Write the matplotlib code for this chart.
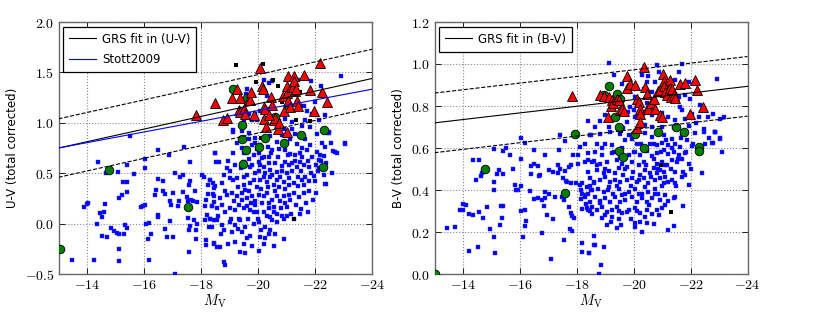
import numpy as np
import matplotlib
matplotlib.use("Agg")
import matplotlib.pyplot as plt
from matplotlib.ticker import FuncFormatter, MultipleLocator

plt.rcParams['mathtext.fontset'] = 'cm'
plt.rcParams['font.family'] = ['DejaVu Sans']

# ---------------- data : left panel (M_V, U-V) ----------------
uv_blue = [
    (-15.52,0.87),(-14.37,0.61),(-14.67,0.50),(-15.41,0.58),(-15.08,0.51),(-16.04,0.64),(-16.03,0.55),
    (-15.64,0.49),(-15.26,0.41),(-15.40,0.41),(-15.40,0.31),(-15.22,0.28),(-15.11,0.25),(-14.64,0.19),
    (-14.01,0.19),(-13.90,0.16),(-14.59,0.12),(-14.47,0.11),(-14.53,0.065),(-14.36,0.0),(-14.84,-0.047),
    (-14.95,-0.07),(-15.32,-0.018),(-15.40,-0.047),(-15.13,-0.10),(-15.31,-0.10),(-14.53,-0.12),(-14.70,-0.13),
    (-15.13,-0.25),(-13.47,-0.36),(-14.23,-0.36),(-15.13,-0.37),(-16.19,-0.36),(-15.88,0.16),(-15.95,0.17),
    (-16.04,0.18),(-16.07,0.0),(-16.16,0.006),(-16.25,-0.10),(-16.14,-0.15),(-16.49,0.73),(-16.86,0.68),
    (-16.41,0.33),(-16.39,0.28),(-16.48,0.44),(-16.65,0.42),(-16.67,0.32),(-16.72,0.29),(-17.03,0.30),
    (-16.90,0.22),(-16.93,0.18),(-17.24,0.22),(-17.21,0.17),(-16.49,0.07),(-16.48,0.085),(-16.91,0.028),
    (-16.74,-0.054),(-16.79,-0.13),(-17.03,-0.13),(-17.10,-0.50),(-17.10,0.50),(-17.26,0.46),(-17.40,0.76),
    (-17.37,0.48),(-17.61,0.61),(-17.61,0.42),(-17.59,0.38),(-17.37,0.31),(-17.52,0.26),(-17.66,0.23),
    (-17.54,0.22),(-17.72,0.22),(-17.87,0.21),(-17.80,0.32),(-17.54,0.06),(-17.77,0.035),(-17.87,-0.008),
    (-17.62,-0.02),(-17.59,-0.064),(-17.82,-0.064),(-17.81,-0.15),(-17.58,-0.28),(-18.03,0.48),(-18.11,0.46),
    (-18.23,0.38),(-18.32,0.43),(-18.41,0.40),(-18.45,0.35),(-18.50,0.70),(-18.54,0.61),(-18.23,0.29),
    (-18.42,0.29),(-18.16,0.23),(-18.44,0.21),(-18.15,0.17),(-18.38,0.17),(-18.20,0.085),(-18.15,0.035),
    (-18.32,0.045),(-18.45,0.038),(-18.27,-0.03),(-18.38,-0.03),(-18.18,-0.21),(-18.44,-0.19),(-18.55,-0.23),
    (-18.17,-0.16),(-14.02,0.20),(-15.07,-0.09),
    (-19.11,0.91),(-19.44,0.92),(-19.67,0.90),(-19.90,0.85),(-19.79,0.78),(-19.96,0.74),(-20.08,0.78),
    (-20.26,0.83),(-20.43,0.87),(-20.67,0.81),(-20.84,0.88),(-21.13,0.84),(-21.31,0.89),(-21.37,0.79),
    (-21.66,0.84),(-21.84,0.78),(-22.07,0.89),(-22.36,0.76),(-22.48,0.90),(-22.62,0.72),(-22.77,0.70),
    (-23.04,0.79),(-18.49,0.70),(-19.12,0.70),(-19.52,0.70),(-19.85,0.68),(-20.02,0.70),(-20.20,0.66),
    (-20.37,0.66),(-20.49,0.73),(-20.72,0.74),(-20.96,0.73),(-21.13,0.69),(-21.31,0.68),(-21.48,0.70),
    (-21.72,0.73),(-22.07,0.71),(-22.19,0.68),(-22.13,0.63),(-22.05,0.58),(-18.62,0.61),(-19.03,0.52),
    (-19.50,0.61),(-19.70,0.64),(-19.73,0.56),(-20.02,0.61),(-20.08,0.58),(-20.20,0.56),(-20.37,0.60),
    (-20.43,0.53),(-20.61,0.60),(-20.67,0.51),(-20.84,0.57),(-20.96,0.61),(-21.08,0.58),(-21.19,0.60),
    (-21.37,0.56),(-21.48,0.61),(-21.60,0.58),(-21.78,0.56),(-21.95,0.47),(-22.36,0.39),(-18.33,0.43),
    (-18.50,0.37),(-18.73,0.40),(-18.85,0.32),(-19.14,0.43),(-19.26,0.45),(-19.50,0.46),(-19.50,0.38),
    (-19.55,0.33),(-19.73,0.40),(-19.85,0.43),(-20.08,0.43),(-20.20,0.46),(-20.31,0.41),(-20.43,0.46),
    (-20.55,0.38),(-20.67,0.43),(-20.78,0.46),(-20.90,0.41),(-21.08,0.45),(-21.25,0.40),(-21.39,0.37),
    (-21.54,0.43),(-21.60,0.38),(-21.78,0.32),(-21.93,0.23),(-21.74,0.12),(-18.44,0.27),(-18.68,0.25),
    (-18.91,0.28),(-19.09,0.30),(-19.26,0.27),(-19.44,0.30),(-19.61,0.25),(-19.79,0.27),(-19.90,0.22),
    (-20.02,0.28),(-20.20,0.27),(-20.31,0.30),(-20.49,0.23),(-20.67,0.27),(-20.78,0.22),(-20.90,0.27),
    (-21.08,0.28),(-21.13,0.23),(-20.96,0.20),(-18.38,0.17),(-18.56,0.15),(-18.73,0.18),(-18.85,0.12),
    (-19.03,0.15),(-19.20,0.13),(-19.32,0.18),(-19.50,0.15),(-19.61,0.17),(-19.73,0.13),(-19.90,0.18),
    (-19.96,0.12),(-20.20,0.12),(-20.37,0.15),(-20.43,0.07),(-20.67,0.10),(-20.84,0.08),(-21.02,0.08),
    (-21.46,0.094),(-18.33,0.05),(-18.56,0.036),(-18.73,-0.014),(-18.79,-0.064),(-19.0,0.02),(-19.20,-0.014),
    (-19.38,0.036),(-19.55,-0.03),(-19.85,0.0),(-20.02,0.02),(-20.26,-0.03),(-20.49,0.036),(-20.43,-0.064),
    (-20.08,-0.13),(-20.26,-0.14),(-20.37,-0.10),(-20.55,-0.22),(-19.73,-0.12),(-19.44,-0.08),(-19.20,-0.18),
    (-19.50,-0.20),(-18.44,-0.20),(-18.65,-0.23),(-19.38,-0.28),(-19.55,-0.29),(-20.02,-0.27),(-18.79,-0.38),
    (-18.85,-0.41),
    (-22.91,1.46),(-22.22,1.37),(-21.86,1.41),(-21.40,1.42),(-21.23,1.41),(-21.02,1.43),(-20.49,1.41),
    (-20.37,1.39),(-20.20,1.42),(-20.14,1.32),(-20.31,1.27),(-19.61,1.34),(-19.59,1.29),(-21.13,1.26),
    (-21.37,1.21),(-21.43,1.14),(-21.60,1.17),(-21.72,1.12),(-21.89,1.09),(-22.01,1.21),(-22.36,1.08),
    (-22.13,1.03),(-21.66,1.03),(-21.19,1.01),(-20.96,1.04),(-20.72,1.02),(-20.52,1.06),(-20.31,1.14),
    (-20.08,1.12),(-19.90,1.09),(-20.20,1.04),(-19.96,1.03),(-19.79,1.03),(-19.67,1.09),(-19.50,1.03),
    (-19.12,0.93),(-20.67,0.96),(-20.90,0.94),(-21.19,0.94),(-21.54,0.97),(-21.84,0.96),(-22.46,0.90),
    (-23.04,0.80),(-22.71,0.71),(-22.50,0.91),(-22.39,0.39),(-22.20,0.62),(-22.30,0.48),(-22.10,0.52),
    (-18.90,0.55),(-19.00,0.45),(-19.20,0.58),(-19.30,0.36),(-19.35,0.05),(-19.40,0.55),(-19.60,0.48),
    (-19.65,0.05),(-19.70,0.32),(-19.80,0.58),(-19.85,0.12),(-19.90,0.50),(-19.95,0.36),(-20.00,0.05),
    (-20.05,0.52),(-20.10,0.34),(-20.15,0.20),(-20.15,0.65),(-20.25,0.50),(-20.30,0.08),(-20.35,0.36),
    (-20.40,0.20),(-20.45,0.70),(-20.50,0.48),(-20.55,0.12),(-20.60,0.32),(-20.65,0.02),(-20.70,0.66),
    (-20.75,0.36),(-20.80,0.15),(-20.85,0.52),(-20.90,0.05),(-20.95,0.34),(-21.00,0.50),(-21.00,0.16),
    (-21.05,0.68),(-21.10,0.38),(-21.15,0.10),(-21.20,0.52),(-21.25,0.30),(-21.30,0.62),(-21.35,0.18),
    (-21.40,0.46),(-21.45,0.26),(-21.50,0.52),(-21.55,0.66),(-21.60,0.30),(-21.65,0.46),(-21.70,0.20),
    (-21.75,0.62),(-21.80,0.42),(-21.85,0.50),(-21.90,0.66),(-22.00,0.42),(-22.05,0.30),(-22.15,0.55),
    (-22.25,0.80),(-22.40,0.60),(-22.55,0.80),(-22.60,0.50),(-19.05,0.05),(-19.10,-0.08),(-19.30,-0.05),
    (-19.60,-0.14),(-19.80,-0.22),(-20.20,-0.20),(-20.60,-0.10),(-20.90,-0.15),(-18.60,0.08),(-18.70,-0.10),
    (-18.95,-0.20),(-19.15,0.22),(-19.45,0.23),(-19.75,0.20),(-20.10,-0.06),(-20.55,0.16),(-21.25,0.05),
    (-21.50,0.14),(-19.90,0.80),(-20.35,0.76),(-21.00,0.80),(-21.55,0.75),(-19.70,0.84),(-22.30,0.67),
    (-18.80,0.48),(-18.95,0.62),(-19.25,0.80),(-19.45,0.75),
]
uv_black = [(-19.24,1.57),(-20.16,1.58),(-20.53,1.42),(-19.93,1.40),(-20.70,1.37),(-20.84,1.21),
            (-21.34,1.03),(-21.84,1.02),(-21.46,1.31),(-21.28,0.045),(-20.10,0.85)]
uv_green = [(-13.04,-0.25),(-14.76,0.53),(-17.56,0.16),(-19.14,1.34),(-19.61,1.25),(-19.44,0.98),
            (-19.44,0.84),(-19.59,0.73),(-19.47,0.59),(-20.02,0.76),(-20.26,0.85),(-20.61,1.06),
            (-20.90,0.80),(-21.07,1.16),(-21.52,0.88),(-22.30,0.93),(-22.27,0.56)]
uv_red = [(-17.82,1.08),(-18.48,1.20),(-18.76,1.03),(-18.91,1.05),(-19.09,1.25),(-19.26,1.34),
          (-19.38,1.25),(-19.35,1.13),(-19.38,1.11),(-19.50,1.14),(-19.55,1.09),(-19.67,1.24),
          (-19.73,1.23),(-19.75,1.31),(-19.85,1.08),(-20.07,1.54),(-20.14,1.37),(-20.16,1.34),
          (-20.20,1.16),(-20.26,1.14),(-20.20,1.04),(-20.29,0.96),(-20.45,1.26),(-20.49,1.18),
          (-20.55,1.03),(-20.61,1.05),(-20.69,0.94),(-20.72,1.00),(-20.88,1.27),(-20.90,1.12),
          (-21.00,1.30),(-21.02,1.37),(-21.04,1.46),(-21.07,1.22),(-21.13,1.16),(-21.16,1.36),
          (-21.23,1.36),(-21.25,1.46),(-21.27,1.41),(-21.31,1.32),(-21.34,1.34),(-21.37,1.22),
          (-21.40,1.17),(-21.02,0.91),(-21.62,1.47),(-21.81,1.33),(-21.98,1.12),(-22.16,1.59),
          (-22.25,1.31),(-22.42,1.21),(-20.40,1.08)]
# fit lines: colour = a + b * M_V
uv_grs_a, uv_grs_b, uv_grs_sig = -0.0655, -0.0627, 0.29
uv_stott_a, uv_stott_b = 0.061, -0.053

# ---------------- data : right panel (M_V, B-V) ----------------
bv_blue = [
    (-16.05,0.650),(-16.19,0.626),(-17.40,0.661),(-17.60,0.633),(-16.49,0.590),(-16.87,0.568),(-17.37,0.590),
    (-18.12,0.604),(-18.51,0.661),(-15.08,0.596),(-15.40,0.587),(-15.50,0.598),(-15.65,0.566),(-16.05,0.550),
    (-14.36,0.541),(-15.25,0.493),(-15.20,0.474),(-15.40,0.477),(-14.67,0.479),(-14.63,0.466),(-14.47,0.447),
    (-15.75,0.499),(-15.08,0.437),(-15.10,0.398),(-15.84,0.423),(-15.92,0.399),(-16.04,0.420),(-16.39,0.514),
    (-16.48,0.523),(-16.62,0.515),(-16.39,0.476),(-16.66,0.469),(-16.72,0.472),(-17.02,0.495),(-17.17,0.487),
    (-17.35,0.520),(-17.42,0.498),(-17.35,0.482),(-17.50,0.455),(-17.59,0.490),(-17.72,0.510),(-17.80,0.520),
    (-17.87,0.567),(-18.06,0.567),(-18.03,0.523),(-17.61,0.444),(-17.67,0.436),(-17.81,0.431),(-17.97,0.431),
    (-18.11,0.423),(-18.20,0.431),(-18.38,0.542),(-18.52,0.531),(-18.15,0.399),(-18.45,0.418),(-18.50,0.399),
    (-18.18,0.380),(-18.30,0.376),(-18.40,0.380),(-18.15,0.355),(-18.32,0.333),(-18.20,0.308),(-18.38,0.304),
    (-18.47,0.301),(-16.34,0.395),(-16.48,0.357),(-16.65,0.363),(-16.78,0.352),(-16.90,0.391),(-17.02,0.380),
    (-16.86,0.325),(-16.90,0.363),(-16.95,0.281),(-17.18,0.260),(-17.25,0.368),(-17.48,0.368),(-17.54,0.352),
    (-17.73,0.320),(-17.80,0.292),(-17.84,0.276),(-17.89,0.265),(-17.77,0.216),(-17.83,0.205),(-17.56,0.162),
    (-17.10,0.070),(-16.79,0.197),(-16.10,0.175),(-16.21,0.254),(-16.18,0.228),(-16.04,0.300),(-16.19,0.304),
    (-15.88,0.401),(-15.34,0.324),(-15.40,0.324),(-14.83,0.320),(-14.56,0.295),(-14.35,0.281),(-14.21,0.285),
    (-14.10,0.328),(-13.91,0.307),(-13.99,0.307),(-14.69,0.268),(-15.38,0.269),(-15.31,0.233),(-14.95,0.214),
    (-15.10,0.176),(-13.45,0.220),(-13.71,0.225),(-14.52,0.130),(-14.21,0.111),(-15.13,0.101),(-18.19,0.146),
    (-18.18,0.106),(-18.44,0.098),(-18.61,0.138),(-14.00,0.335),(-14.55,0.545),
    (-18.47,0.661),(-18.82,0.669),(-19.18,0.676),(-19.53,0.666),(-19.82,0.661),(-19.94,0.645),(-20.40,0.672),
    (-20.64,0.653),(-21.05,0.661),(-21.34,0.645),(-21.69,0.669),(-22.16,0.672),(-22.46,0.677),(-22.63,0.650),
    (-22.87,0.677),(-23.04,0.642),(-22.75,0.625),(-18.30,0.621),(-18.71,0.621),(-19.00,0.618),(-19.23,0.613),
    (-19.70,0.637),(-20.11,0.621),(-20.35,0.605),(-20.58,0.621),(-20.81,0.613),(-20.99,0.625),(-21.22,0.613),
    (-21.46,0.618),(-21.63,0.605),(-21.87,0.637),(-22.04,0.609),(-18.41,0.574),(-18.65,0.582),(-18.88,0.566),
    (-19.23,0.574),(-19.53,0.558),(-19.82,0.566),(-20.05,0.582),(-20.23,0.566),(-20.46,0.586),(-20.64,0.561),
    (-20.81,0.574),(-21.05,0.590),(-21.22,0.571),(-21.40,0.582),(-21.58,0.566),(-21.69,0.550),(-21.81,0.577),
    (-21.95,0.526),(-18.30,0.534),(-18.59,0.539),(-18.82,0.526),(-19.06,0.534),(-19.41,0.545),(-19.58,0.526),
    (-19.76,0.510),(-19.94,0.534),(-20.17,0.518),(-20.35,0.534),(-20.70,0.550),(-20.81,0.526),(-20.99,0.534),
    (-21.17,0.518),(-21.34,0.542),(-21.52,0.534),(-18.41,0.487),(-18.71,0.495),(-18.94,0.479),(-19.12,0.491),
    (-19.35,0.479),(-19.47,0.503),(-19.64,0.471),(-19.99,0.487),(-20.23,0.471),(-20.40,0.495),(-20.58,0.479),
    (-20.70,0.503),(-20.81,0.479),(-20.93,0.495),(-21.05,0.487),(-21.11,0.463),(-21.34,0.447),(-21.46,0.487),
    (-21.75,0.487),(-21.81,0.471),(-22.40,0.482),(-18.47,0.455),(-18.59,0.431),(-18.82,0.447),(-19.00,0.463),
    (-19.18,0.439),(-19.35,0.450),(-19.53,0.439),(-19.76,0.447),(-19.94,0.455),(-20.11,0.439),(-20.35,0.455),
    (-20.52,0.431),(-20.76,0.447),(-20.93,0.455),(-21.05,0.431),(-21.22,0.439),(-21.46,0.431),(-21.93,0.423),
    (-18.35,0.415),(-18.53,0.399),(-18.76,0.407),(-18.94,0.391),(-19.12,0.415),(-19.29,0.383),(-19.47,0.403),
    (-19.58,0.376),(-19.82,0.391),(-20.05,0.407),(-20.17,0.383),(-20.40,0.412),(-20.52,0.391),(-20.76,0.403),
    (-20.87,0.383),(-21.11,0.376),(-21.40,0.360),(-21.46,0.368),(-18.30,0.368),(-18.47,0.344),(-18.65,0.368),
    (-18.82,0.336),(-19.00,0.360),(-19.18,0.344),(-19.35,0.368),(-19.53,0.344),(-19.70,0.352),(-19.94,0.368),
    (-20.11,0.344),(-20.29,0.360),(-20.46,0.344),(-20.64,0.360),(-20.93,0.352),(-21.11,0.328),(-21.75,0.323),
    (-18.36,0.312),(-18.53,0.320),(-18.71,0.304),(-18.88,0.317),(-19.06,0.296),(-19.23,0.307),(-19.41,0.320),
    (-19.58,0.291),(-19.82,0.304),(-20.05,0.312),(-20.23,0.291),(-20.46,0.304),(-20.64,0.288),(-20.81,0.304),
    (-20.99,0.312),(-18.53,0.285),(-18.88,0.269),(-19.23,0.273),(-19.47,0.260),(-19.76,0.296),(-20.23,0.249),
    (-20.46,0.244),(-20.05,0.241),(-19.06,0.233),(-19.41,0.217),(-19.56,0.233),(-20.05,0.222),(-20.29,0.201),
    (-21.22,0.209),(-21.40,0.228),(-18.59,0.181),(-18.65,0.138),(-18.96,0.127),(-18.44,0.098),(-18.85,0.043),
    (-18.77,0.000),
    (-19.14,1.005),(-20.81,0.997),(-21.69,1.002),(-20.52,0.942),(-19.58,0.907),(-19.82,0.867),(-20.46,0.915),
    (-20.76,0.915),(-21.46,0.923),(-22.92,0.929),(-21.93,0.915),(-20.35,0.883),(-20.64,0.867),(-20.05,0.843),
    (-20.23,0.820),(-20.46,0.812),(-20.70,0.828),(-20.99,0.851),(-21.58,0.843),(-21.81,0.851),(-21.99,0.832),
    (-21.63,0.793),(-21.69,0.780),(-22.04,0.761),(-22.34,0.804),(-19.88,0.796),(-19.80,0.772),(-20.00,0.780),
    (-20.05,0.748),(-20.31,0.764),(-20.64,0.756),(-20.99,0.767),(-21.22,0.748),(-21.46,0.732),(-21.81,0.740),
    (-22.28,0.748),(-22.46,0.690),(-22.87,0.677),(-23.04,0.740),(-23.16,0.748),(-18.65,0.701),(-18.82,0.729),
    (-19.12,0.701),(-19.00,0.756),(-19.76,0.724),(-19.64,0.693),(-18.41,0.729),(-21.40,0.701),(-21.93,0.704),
    (-20.99,0.701),(-20.64,0.701),(-20.40,0.708),(-22.80,0.764),(-22.86,0.677),(-22.78,0.626),(-23.02,0.648),
    (-18.70,0.520),(-18.90,0.600),(-19.00,0.500),(-19.10,0.400),(-19.30,0.580),(-19.40,0.420),(-19.60,0.600),
    (-19.70,0.380),(-19.70,0.500),(-19.90,0.420),(-20.00,0.580),(-20.10,0.300),(-20.20,0.450),(-20.25,0.620),
    (-20.30,0.380),(-20.45,0.520),(-20.55,0.330),(-20.60,0.460),(-20.70,0.620),(-20.75,0.380),(-20.85,0.500),
    (-20.90,0.280),(-20.95,0.580),(-21.00,0.420),(-21.10,0.520),(-21.15,0.640),(-21.20,0.350),(-21.30,0.500),
    (-21.35,0.600),(-21.50,0.420),(-21.55,0.550),(-21.65,0.650),(-21.70,0.460),(-21.85,0.580),(-22.00,0.500),
    (-22.10,0.620),(-22.20,0.720),(-22.50,0.620),(-19.20,0.250),(-19.50,0.300),(-19.90,0.260),(-20.40,0.270),
    (-20.70,0.240),(-19.00,0.280),(-18.60,0.440),(-18.80,0.350),(-20.30,0.950),(-20.90,0.960),(-21.60,0.960),
    (-19.30,0.950),(-22.60,0.750),(-23.10,0.580),
]
bv_black = [(-21.31,0.296),(-20.97,0.518),(-19.55,0.680),(-20.85,0.860)]
bv_green = [(-13.00,0.000),(-14.78,0.498),(-17.57,0.384),(-17.94,0.666),(-18.96,0.854),(-19.15,0.896),
            (-19.33,0.748),(-19.43,0.859),(-19.47,0.698),(-19.47,0.587),(-19.53,0.832),(-19.61,0.558),
            (-20.05,0.669),(-20.35,0.602),(-20.87,0.677),(-21.49,0.698),(-21.77,0.674),(-22.31,0.606),
            (-22.28,0.587)]
bv_red = [(-17.83,0.847),(-18.80,0.851),(-18.96,0.847),(-19.08,0.748),(-19.12,0.844),(-19.21,0.799),
          (-19.23,0.828),(-19.29,0.815),(-19.41,0.835),(-19.50,0.828),(-19.53,0.780),(-19.58,0.788),
          (-19.67,0.775),(-19.76,0.942),(-19.76,0.888),(-19.88,0.907),(-20.05,0.899),(-20.13,0.835),
          (-20.17,0.820),(-20.21,0.788),(-20.21,0.764),(-20.13,0.693),(-20.23,0.725),(-20.38,0.986),
          (-20.40,0.891),(-20.46,0.859),(-20.50,0.796),(-20.52,0.788),(-20.60,0.815),(-20.70,0.831),
          (-20.76,0.788),(-20.84,0.872),(-20.91,0.878),(-20.93,0.756),(-20.99,0.748),(-21.02,0.952),
          (-21.05,0.919),(-21.08,0.894),(-21.11,0.867),(-21.17,0.851),(-21.26,0.922),(-21.28,0.888),
          (-21.31,0.843),(-21.34,0.883),(-21.40,0.854),(-21.46,0.840),(-21.63,0.907),(-21.81,0.910),
          (-21.99,0.764),(-22.16,0.926),(-22.24,0.875),(-22.43,0.796)]
bv_grs_a, bv_grs_b, bv_grs_sig = 0.514, -0.01582, 0.142

x_ticks = [-14, -16, -18, -20, -22, -24]
x_range = (-13, -24)


def arr(pts):
    a = np.array(pts, dtype=float)
    return a[:, 0], a[:, 1]


fig = plt.figure(figsize=(8.3, 3.12), dpi=100)
ax1 = fig.add_axes([58.5 / 830, 38 / 312, 313.5 / 830, 252 / 312])
ax2 = fig.add_axes([434.5 / 830, 38 / 312, 313 / 830, 252 / 312])


def style(ax, ylim, ystep, ylabel):
    ax.set_xlim(*x_range)
    ax.set_ylim(*ylim)
    ax.set_xticks(x_ticks)
    ax.yaxis.set_major_locator(MultipleLocator(ystep))
    ax.xaxis.set_major_formatter(FuncFormatter(lambda v, p: r'$\mathrm{%d}$' % round(v)))
    ax.yaxis.set_major_formatter(FuncFormatter(lambda v, p: r'$\mathrm{%.1f}$' % v))
    ax.tick_params(direction='in', length=4, width=0.6, top=True, right=True,
                   labelsize=10, pad=3, colors='black')
    ax.grid(True, linestyle=':', color='0.55', linewidth=0.8)
    ax.set_axisbelow(True)
    for s in ax.spines.values():
        s.set_color('0.4')
        s.set_linewidth(1.0)
    ax.set_xlabel(r'$M_{\rm V}$', fontsize=10.5, labelpad=0)
    ax.set_ylabel(ylabel, fontsize=8.5, labelpad=4)


def points(ax, blue, black, green, red):
    x, y = arr(blue)
    ax.plot(x, y, 's', color='#0000ff', ms=2.8, mec='#3030ff', mew=0.3, zorder=3)
    x, y = arr(black)
    ax.plot(x, y, 's', color='black', ms=2.4, mew=0, zorder=3)
    x, y = arr(green)
    ax.plot(x, y, 'o', color='#007f00', ms=6.2, mec='black', mew=0.6, zorder=4)
    x, y = arr(red)
    ax.plot(x, y, '^', color='#ff0000', ms=7, mec='black', mew=0.6, zorder=5)


xl = np.array(x_range, dtype=float)

# left panel
points(ax1, uv_blue, uv_black, uv_green, uv_red)
ax1.plot(xl, uv_grs_a + uv_grs_b * xl, color='black', lw=0.8, zorder=6, label='GRS fit in (U-V)')
ax1.plot(xl, uv_grs_a + uv_grs_b * xl + uv_grs_sig, '--', color='black', lw=0.8, zorder=6)
ax1.plot(xl, uv_grs_a + uv_grs_b * xl - uv_grs_sig, '--', color='black', lw=0.8, zorder=6)
ax1.plot(xl, uv_stott_a + uv_stott_b * xl, color='#0000ff', lw=0.8, zorder=6, label='Stott2009')
style(ax1, (-0.5, 2.0), 0.5, 'U-V (total corrected)')

# right panel
points(ax2, bv_blue, bv_black, bv_green, bv_red)
ax2.plot(xl, bv_grs_a + bv_grs_b * xl, color='black', lw=0.8, zorder=6, label='GRS fit in (B-V)')
ax2.plot(xl, bv_grs_a + bv_grs_b * xl + bv_grs_sig, '--', color='black', lw=0.8, zorder=6)
ax2.plot(xl, bv_grs_a + bv_grs_b * xl - bv_grs_sig, '--', color='black', lw=0.8, zorder=6)
style(ax2, (0.0, 1.2), 0.2, 'B-V (total corrected)')

for ax in (ax1, ax2):
    leg = ax.legend(loc='upper left', fontsize=8.5, fancybox=False, framealpha=1,
                    edgecolor='black', handlelength=2.3, borderpad=0.5,
                    borderaxespad=0.4, labelspacing=0.6, handletextpad=0.5)
    leg.get_frame().set_linewidth(0.9)
    leg.set_zorder(10)

fig.savefig('out.png', dpi=100)
